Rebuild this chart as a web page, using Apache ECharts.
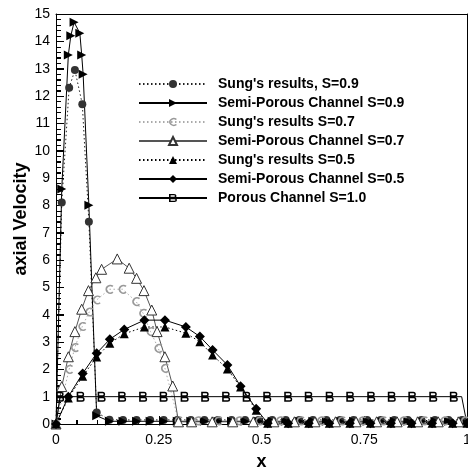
<!DOCTYPE html>
<html>
<head>
<meta charset="utf-8">
<script src="https://cdn.jsdelivr.net/npm/echarts@6/dist/echarts.min.js"></script>
<style>html,body{margin:0;padding:0;background:#fff;}#c{width:468px;height:470px;}</style>
</head>
<body>
<div id="c"></div>
<script>
// ---- data ----
const xTicks = [0, 0.25, 0.5, 0.75, 1];
const xTitle = 'x';
const yTitle = 'axial Velocity';
const seriesNames = [
  "Sung's results, S=0.9",
  "Semi-Porous Channel S=0.9",
  "Sung's results S=0.7",
  "Semi-Porous Channel S=0.7",
  "Sung's results S=0.5",
  "Semi-Porous Channel S=0.5",
  "Porous Channel S=1.0"
];

const sung09X = [0, 0.014, 0.032, 0.046, 0.064, 0.080, 0.099, 0.130, 0.163, 0.196, 0.229, 0.262, 0.295, 0.328, 0.361, 0.394, 0.427, 0.460, 0.493, 0.526, 0.559, 0.592, 0.625, 0.658, 0.691, 0.724, 0.757, 0.790, 0.823, 0.856, 0.889, 0.922, 0.955, 0.988];
const sung09Y = [0, 8.1, 12.3, 12.95, 11.7, 7.4, 0.42, 0.16, 0.15, 0.15, 0.15, 0.15, 0.15, 0.15, 0.15, 0.15, 0.15, 0.15, 0.15, 0.15, 0.15, 0.15, 0.15, 0.15, 0.15, 0.15, 0.15, 0.15, 0.15, 0.15, 0.15, 0.15, 0.15, 0.15];

const semi09X = [0, 0.014, 0.030, 0.036, 0.044, 0.058, 0.0625, 0.066, 0.080, 0.099, 0.130, 0.163, 0.196, 0.229, 0.262, 0.295, 0.328, 0.361, 0.394, 0.427, 0.460, 0.493, 0.526, 0.559, 0.592, 0.625, 0.658, 0.691, 0.724, 0.757, 0.790, 0.823, 0.856, 0.889, 0.922, 0.955, 0.988];
const semi09Y = [0, 8.6, 13.5, 14.2, 14.7, 14.3, 13.5, 12.8, 8.0, 0.3, 0.1, 0.1, 0.1, 0.1, 0.1, 0.1, 0.1, 0.1, 0.1, 0.1, 0.1, 0.1, 0.1, 0.1, 0.1, 0.1, 0.1, 0.1, 0.1, 0.1, 0.1, 0.1, 0.1, 0.1, 0.1, 0.1, 0.1];

const sung07X = [0, 0.032, 0.046, 0.064, 0.081, 0.099, 0.130, 0.162, 0.195, 0.212, 0.230, 0.249, 0.265, 0.298, 0.345, 0.395, 0.445, 0.495, 0.545, 0.595, 0.645, 0.695, 0.745, 0.795, 0.845, 0.895, 0.945, 0.995];
const sung07Y = [0, 2.0, 2.8, 3.57, 4.1, 4.54, 4.93, 4.93, 4.48, 4.05, 3.38, 2.77, 2.04, 0.12, 0.12, 0.12, 0.12, 0.12, 0.12, 0.12, 0.12, 0.12, 0.12, 0.12, 0.12, 0.12, 0.12, 0.12];

const semi07X = [0, 0.014, 0.030, 0.046, 0.0625, 0.079, 0.097, 0.111, 0.149, 0.178, 0.196, 0.214, 0.233, 0.246, 0.265, 0.284, 0.298, 0.330, 0.380, 0.430, 0.480, 0.530, 0.580, 0.630, 0.680, 0.730, 0.780, 0.830, 0.880, 0.930, 0.980];
const semi07Y = [0, 1.37, 2.46, 3.38, 4.20, 4.88, 5.35, 5.66, 6.04, 5.70, 5.33, 4.88, 4.17, 3.38, 2.46, 1.39, 0.08, 0.08, 0.08, 0.08, 0.08, 0.08, 0.08, 0.08, 0.08, 0.08, 0.08, 0.08, 0.08, 0.08, 0.08];

const s05X = [0, 0.030, 0.065, 0.099, 0.131, 0.166, 0.215, 0.265, 0.316, 0.350, 0.381, 0.417, 0.449, 0.487, 0.515, 0.565, 0.615, 0.665, 0.715, 0.765, 0.815, 0.865, 0.915, 0.965, 1.0];
const sung05Y = [0, 0.95, 1.75, 2.45, 2.95, 3.3, 3.55, 3.55, 3.32, 3.01, 2.52, 2.01, 1.35, 0.5, 0.03, 0.03, 0.03, 0.03, 0.03, 0.03, 0.03, 0.03, 0.03, 0.03, 0.03];
const semi05Y = [0, 1.0, 1.85, 2.59, 3.10, 3.46, 3.80, 3.80, 3.55, 3.20, 2.71, 2.16, 1.38, 0.56, 0.03, 0.03, 0.03, 0.03, 0.03, 0.03, 0.03, 0.03, 0.03, 0.03, 0.03];

const porousX = [0, 0.010, 0.060, 0.111, 0.161, 0.212, 0.262, 0.313, 0.363, 0.414, 0.464, 0.514, 0.565, 0.615, 0.666, 0.716, 0.767, 0.817, 0.867, 0.918, 0.968, 0.987, 1.0];
const porousY = [0, 1, 1, 1, 1, 1, 1, 1, 1, 1, 1, 1, 1, 1, 1, 1, 1, 1, 1, 1, 1, 1, 0];

// ---- build ----
function pairs(xs, ys) { return xs.map((x, i) => [x, ys[i]]); }
const porousData = porousX.map((x, i) => {
  const v = [x, porousY[i]];
  return (i === 0 || i >= porousX.length - 2) ? { value: v, symbol: 'none' } : v;
});

const C_PATH = 'path://M7.89,1.17 A4.5,5 0 1 0 7.89,8.83 L6.8,7.53 A2.8,3.3 0 1 1 6.8,2.47 Z';
const B_PATH = 'path://M0,0 L5,0 A2.5,2.5 0 0 1 5,5 L5.5,5 A2.5,2.5 0 0 1 5.5,10 L0,10 Z M1.6,1.5 L1.6,3.5 L5,3.5 A1,1 0 0 0 5,1.5 Z M1.6,6.5 L1.6,8.5 L5.5,8.5 A1,1 0 0 0 5.5,6.5 Z';
const DOT = [1.5, 2.5];
const FONT = 'Liberation Sans, Arial, Helvetica, sans-serif';
const X_MIN = 0, X_MAX = 1, X_MAJOR = 0.25, Y_MIN = 0, Y_MAX = 15, Y_MAJOR = 1, MINOR_SPLIT = 5;
const frameAxis = {
  axisLine: { show: true, onZero: false, lineStyle: { color: '#000', width: 1 } },
  axisTick: { show: false }, minorTick: { show: false },
  axisLabel: { show: false }, splitLine: { show: false }
};

// inside ticks drawn through the axis scales (api.coord)
function renderTicks(params, api) {
  const children = [];
  const add = (x1, y1, x2, y2) => children.push({
    type: 'line', shape: { x1, y1, x2, y2 }, style: { stroke: '#000', lineWidth: 1 }
  });
  const yStep = Y_MAJOR / MINOR_SPLIT;
  const yCount = Math.round((Y_MAX - Y_MIN) / yStep);
  for (let k = 0; k <= yCount; k++) {
    const p = api.coord([X_MIN, Y_MIN + k * yStep]);
    const py = Math.round(p[1]) + 0.5;
    add(p[0], py, p[0] + (k % MINOR_SPLIT === 0 ? 8 : 5), py);
  }
  const xStep = X_MAJOR / MINOR_SPLIT;
  const xCount = Math.round((X_MAX - X_MIN) / xStep);
  for (let k = 0; k <= xCount; k++) {
    const p = api.coord([X_MIN + k * xStep, Y_MIN]);
    const px = Math.round(p[0]) + 0.5;
    add(px, p[1], px, p[1] - (k % MINOR_SPLIT === 0 ? 8 : 4));
  }
  return { type: 'group', children };
}

const chart = echarts.init(document.getElementById('c'), null, { renderer: 'canvas' });
chart.setOption({
  animation: false,
  grid: { left: 56, right: 1, top: 14, bottom: 46, outerBoundsMode: 'none' },
  legend: {
    orient: 'vertical', left: 133, top: 72, padding: 5,
    itemWidth: 68, itemHeight: 10, itemGap: 5,
    textStyle: { fontSize: 14, fontWeight: 'bold', fontFamily: FONT, color: '#000', padding: [0, 0, 0, 6] },
    data: seriesNames
  },
  graphic: [
    { type: 'text', x: 21, y: 219, rotation: Math.PI / 2, z: 10,
      style: { text: yTitle, fontSize: 18, fontWeight: 'bold', fontFamily: FONT, fill: '#000', align: 'center', verticalAlign: 'middle' } },
    { type: 'text', x: 261.5, y: 462, z: 10,
      style: { text: xTitle, fontSize: 18, fontWeight: 'bold', fontFamily: FONT, fill: '#000', align: 'center', verticalAlign: 'middle' } }
  ],
  xAxis: [{
    type: 'value', min: X_MIN, max: X_MAX, interval: X_MAJOR, position: 'bottom',
    axisLine: { show: true, onZero: false, lineStyle: { color: '#000' } },
    axisTick: { show: true, inside: true, length: 8, lineStyle: { color: '#000', width: 1 } },
    minorTick: { show: true, splitNumber: MINOR_SPLIT, length: 4, lineStyle: { color: '#000', width: 1 } },
    splitLine: { show: false },
    axisLabel: { fontSize: 14, color: '#000', margin: 9, formatter: v => xTicks.includes(v) ? String(v) : '' }
  }, Object.assign({ type: 'value', min: X_MIN, max: X_MAX, interval: X_MAJOR, position: 'top' }, frameAxis)],
  yAxis: [{
    type: 'value', min: Y_MIN, max: Y_MAX, interval: Y_MAJOR, position: 'left',
    axisLine: { show: true, onZero: false, lineStyle: { color: '#000' } },
    axisTick: { show: true, inside: true, length: 8, lineStyle: { color: '#000', width: 1 } },
    minorTick: { show: true, splitNumber: MINOR_SPLIT, length: 5, lineStyle: { color: '#000', width: 1 } },
    splitLine: { show: false },
    axisLabel: { fontSize: 14, color: '#000', margin: 6 }
  }, Object.assign({ type: 'value', min: Y_MIN, max: Y_MAX, interval: Y_MAJOR, position: 'right' }, frameAxis)],
  series: [
    { name: 'ticks', type: 'custom', renderItem: renderTicks, data: [[X_MIN, Y_MIN]],
      silent: true, z: 1, clip: false, xAxisIndex: 0, yAxisIndex: 0, tooltip: { show: false } },
    { name: seriesNames[0], type: 'line', data: pairs(sung09X, sung09Y),
      symbol: 'circle', symbolSize: 8,
      lineStyle: { color: '#222', width: 1, type: DOT },
      itemStyle: { color: '#333', borderWidth: 0 } },
    { name: seriesNames[1], type: 'line', data: pairs(semi09X, semi09Y),
      symbol: 'triangle', symbolSize: 9, symbolRotate: -90,
      lineStyle: { color: '#000', width: 1, type: 'solid' },
      itemStyle: { color: '#000', borderWidth: 0 } },
    { name: seriesNames[2], type: 'line', data: pairs(sung07X, sung07Y),
      symbol: C_PATH, symbolSize: [8, 9], symbolKeepAspect: false,
      lineStyle: { color: '#aaa', width: 1, type: DOT },
      itemStyle: { color: '#999', borderWidth: 0 } },
    { name: seriesNames[3], type: 'line', data: pairs(semi07X, semi07Y),
      symbol: 'triangle', symbolSize: 10,
      lineStyle: { color: '#555', width: 1, type: 'solid' },
      itemStyle: { color: '#fff', borderColor: '#333', borderWidth: 1 } },
    { name: seriesNames[4], type: 'line', data: pairs(s05X, sung05Y),
      symbol: 'triangle', symbolSize: 9,
      lineStyle: { color: '#000', width: 1, type: DOT },
      itemStyle: { color: '#000', borderWidth: 0 } },
    { name: seriesNames[5], type: 'line', data: pairs(s05X, semi05Y),
      symbol: 'diamond', symbolSize: 10,
      lineStyle: { color: '#000', width: 1, type: 'solid' },
      itemStyle: { color: '#000', borderWidth: 0 } },
    { name: seriesNames[6], type: 'line', data: porousData,
      symbol: B_PATH, symbolSize: [8, 10], symbolKeepAspect: false,
      lineStyle: { color: '#000', width: 1, type: 'solid' },
      itemStyle: { color: '#000', borderWidth: 0 } }
  ]
});
</script>
</body>
</html>
